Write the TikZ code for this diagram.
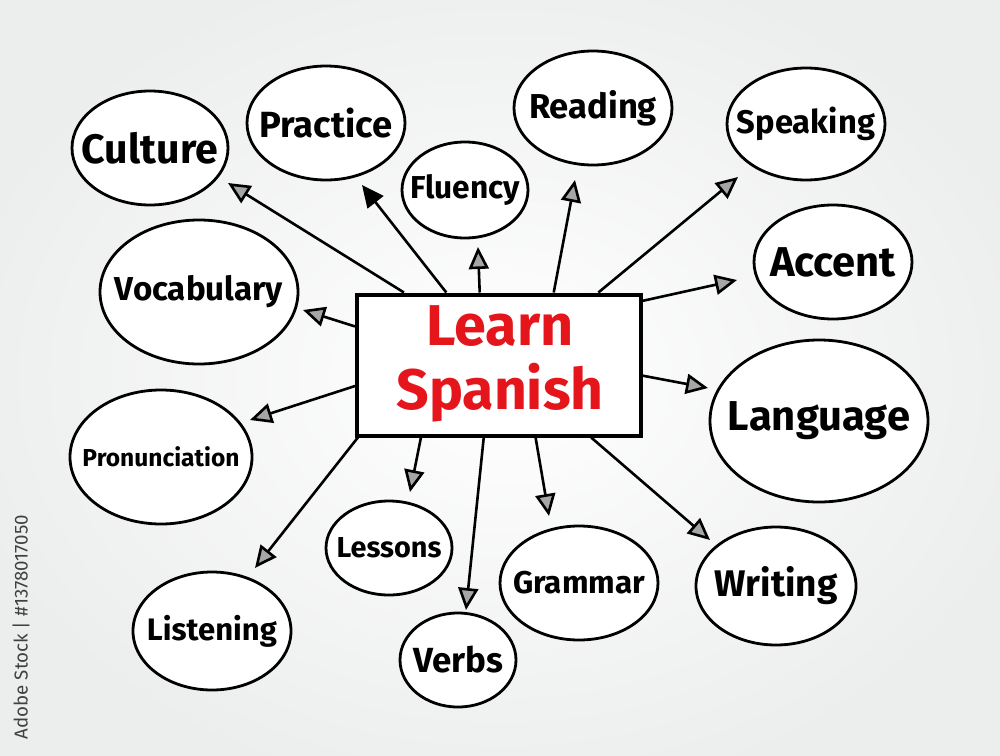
\documentclass[tikz,border=0pt]{standalone}
\usepackage{fontspec}
\setmainfont{Fira Sans}
\usetikzlibrary{shapes.geometric,arrows.meta,calc}
\definecolor{redt}{RGB}{228,22,28}
\definecolor{bgg}{RGB}{236,237,237}
\newcommand{\fitw}[2]{\resizebox{#1}{!}{#2}}
\begin{document}
\begin{tikzpicture}[x=0.5pt,y=-0.5pt,
  bub/.style={ellipse, draw=black, line width=1.4pt, fill=white, inner sep=0pt,
     label={[font=\bfseries, inner sep=0pt]center:#1}},
  arr/.style={line width=1.3pt, -{Triangle[length=11pt, width=10pt, fill=black!35]}},
  arrs/.style={line width=1.3pt, -{Triangle[length=11pt, width=10pt]}}]
\useasboundingbox (0,0) rectangle (1000,755);
\begin{scope}
\clip (0,0) rectangle (1000,755);
\shade[inner color=white, outer color=bgg] (-60,-50) rectangle (1060,805);
\end{scope}
% watermark text
\node[rotate=90, text=black!75, inner sep=0pt] (wm) at (21,627) {\fitw{112pt}{Adobe Stock | \#1378017050}};
% central box
\node[draw, line width=2pt, fill=white, minimum width=142pt, minimum height=70.5pt, inner sep=0pt] (main) at (499,365) {};
\node[text=redt, font=\bfseries, align=center, inner sep=0pt] (title) at (500,364)
  {\fitw{73.5pt}{Learn}\\[7pt]\fitw{103.5pt}{Spanish}};
% bubbles
\node[bub={\fitw{68pt}{Culture}}, minimum width=78pt, minimum height=57pt] (culture) at (150,148) {};
\node[bub={\fitw{66.5pt}{Practice}}, minimum width=79pt, minimum height=57pt] (practice) at (326,123) {};
\node[bub={\fitw{55pt}{Fluency}}, minimum width=63pt, minimum height=48pt] (fluency) at (465,190) {};
\node[bub={\fitw{64pt}{Reading}}, minimum width=79pt, minimum height=57pt] (reading) at (593,108) {};
\node[bub={\fitw{69pt}{Speaking}}, minimum width=79pt, minimum height=56pt] (speaking) at (806,124) {};
\node[bub={\fitw{63pt}{Accent}}, minimum width=79pt, minimum height=57pt] (accent) at (833,262) {};
\node[bub={\fitw{84pt}{Vocabulary}}, minimum width=99pt, minimum height=72pt] (vocab) at (199,292) {};
\node[bub={\fitw{91pt}{Language}}, minimum width=109pt, minimum height=81pt] (language) at (819,421) {};
\node[bub={\fitw{78.5pt}{Pronunciation}}, minimum width=91pt, minimum height=67pt] (pron) at (161,457) {};
\node[bub={\fitw{52.5pt}{Lessons}}, minimum width=63pt, minimum height=47pt] (lessons) at (389,548) {};
\node[bub={\fitw{66pt}{Grammar}}, minimum width=79pt, minimum height=57pt] (grammar) at (579,583) {};
\node[bub={\fitw{61.5pt}{Writing}}, minimum width=80pt, minimum height=59pt] (writing) at (776,586) {};
\node[bub={\fitw{65pt}{Listening}}, minimum width=79pt, minimum height=59pt] (listening) at (212,631) {};
\node[bub={\fitw{45pt}{Verbs}}, minimum width=58pt, minimum height=47pt] (verbs) at (458,660) {};
% arrow start points on the box
\coordinate (sculture) at ($(main.north west)!0.17!(main.north east)$);
\coordinate (spractice) at ($(main.north west)!0.317!(main.north east)$);
\coordinate (sfluency) at ($(main.north west)!0.433!(main.north east)$);
\coordinate (sreading) at ($(main.north west)!0.69!(main.north east)$);
\coordinate (sspeaking) at ($(main.north west)!0.845!(main.north east)$);
\coordinate (saccent) at ($(main.north east)!0.057!(main.south east)$);
\coordinate (slanguage) at ($(main.north east)!0.574!(main.south east)$);
\coordinate (svocab) at ($(main.north west)!0.234!(main.south west)$);
\coordinate (spron) at ($(main.north west)!0.645!(main.south west)$);
\coordinate (slistening) at ($(main.south west)!0.01!(main.south east)$);
\coordinate (slessons) at ($(main.south west)!0.229!(main.south east)$);
\coordinate (sverbs) at ($(main.south west)!0.447!(main.south east)$);
\coordinate (sgrammar) at ($(main.south west)!0.627!(main.south east)$);
\coordinate (swriting) at ($(main.south west)!0.82!(main.south east)$);
% arrow tips
\coordinate (tculture) at (228,183);
\coordinate (tpractice) at (362,185);
\coordinate (tfluency) at (478,247);
\coordinate (treading) at (575,180);
\coordinate (tspeaking) at (738,177);
\coordinate (taccent) at (737,280);
\coordinate (tlanguage) at (708,388);
\coordinate (tvocab) at (303,310);
\coordinate (tpron) at (250,420);
\coordinate (tlistening) at (255,568);
\coordinate (tlessons) at (410,492);
\coordinate (tverbs) at (466,610);
\coordinate (tgrammar) at (549,516);
\coordinate (twriting) at (710,540);
% connectors
\draw[arr] (sculture) -- (tculture);
\draw[arrs] (spractice) -- (tpractice);
\draw[arr] (sfluency) -- (tfluency);
\draw[arr] (sreading) -- (treading);
\draw[arr] (sspeaking) -- (tspeaking);
\draw[arr] (saccent) -- (taccent);
\draw[arr] (slanguage) -- (tlanguage);
\draw[arr] (svocab) -- (tvocab);
\draw[arr] (spron) -- (tpron);
\draw[arr] (slistening) -- (tlistening);
\draw[arr] (slessons) -- (tlessons);
\draw[arr] (sverbs) -- (tverbs);
\draw[arr] (sgrammar) -- (tgrammar);
\draw[arr] (swriting) -- (twriting);
\end{tikzpicture}
\end{document}
